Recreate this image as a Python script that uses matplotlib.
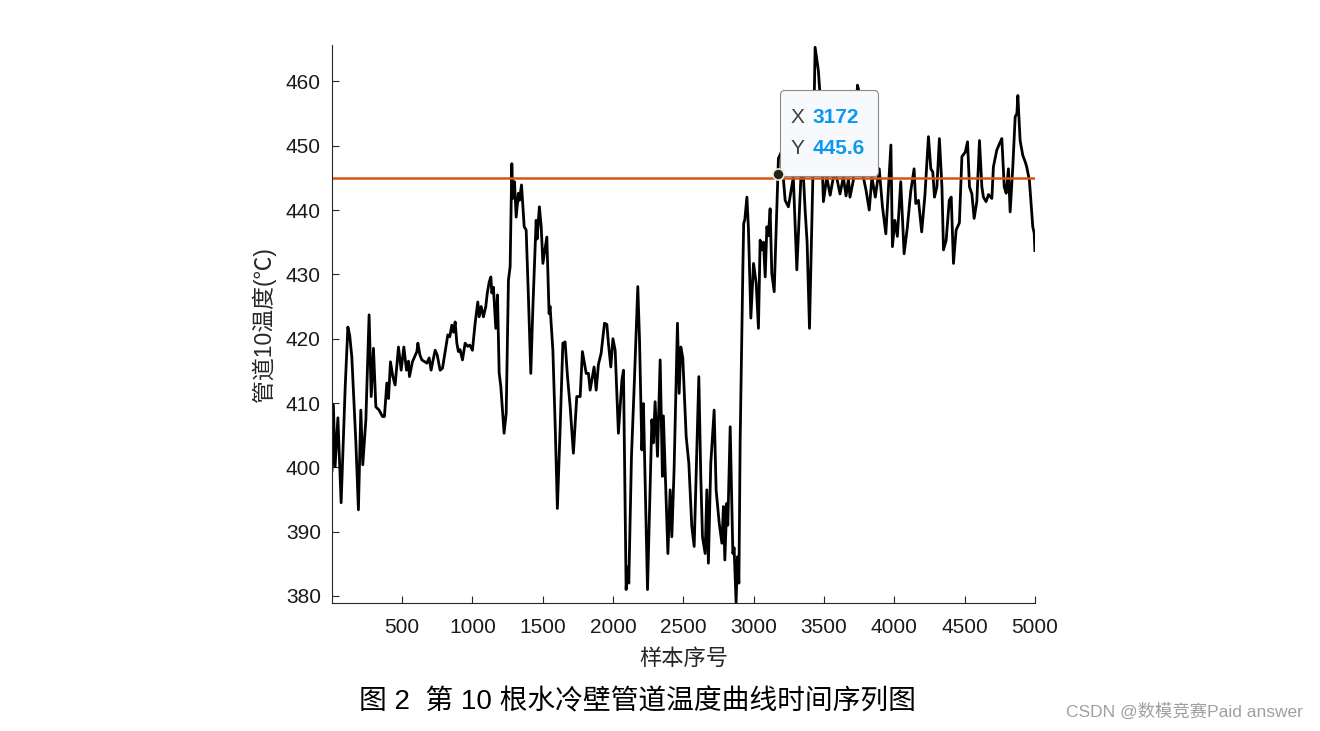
import numpy as np
import matplotlib
matplotlib.use("Agg")
import matplotlib.pyplot as plt
from matplotlib.offsetbox import TextArea, HPacker, VPacker, DrawingArea, AnnotationBbox

plt.rcParams['font.family'] = ['Liberation Sans', 'Noto Sans CJK SC', 'DejaVu Sans']

# sample index / pipe temperature
sample_idx = [
    1, 11, 23, 43, 66, 95, 114, 127, 142, 171, 189, 206, 220, 242, 265, 280, 296, 313,
    336, 360, 374, 391, 403, 417, 434, 450, 474, 493, 512, 531, 545, 552, 573, 605,
    612, 626, 640, 676, 692, 706, 723, 735, 749, 770, 787, 811, 825, 839, 853, 865,
    877, 889, 900, 912, 929, 948, 967, 981, 1000, 1019, 1038, 1048, 1062, 1078, 1095,
    1105, 1119, 1131, 1138, 1149, 1166, 1178, 1190, 1202, 1225, 1240, 1256, 1268,
    1280, 1287, 1299, 1311, 1327, 1334, 1349, 1368, 1382, 1398, 1415, 1430, 1453,
    1460, 1476, 1489, 1501, 1529, 1545, 1552, 1572, 1588, 1604, 1624, 1643, 1659,
    1676, 1695, 1718, 1742, 1766, 1782, 1809, 1825, 1837, 1865, 1880, 1896, 1915,
    1939, 1956, 1967, 1984, 1999, 2015, 2038, 2063, 2074, 2093, 2102, 2112, 2131,
    2152, 2176, 2188, 2205, 2216, 2245, 2276, 2287, 2299, 2316, 2335, 2351, 2358,
    2378, 2390, 2406, 2418, 2434, 2458, 2470, 2482, 2496, 2520, 2539, 2560, 2577,
    2596, 2610, 2624, 2636, 2655, 2667, 2678, 2695, 2719, 2733, 2755, 2774, 2785,
    2795, 2809, 2816, 2833, 2852, 2861, 2875, 2885, 2895, 2904, 2923, 2929, 2937,
    2952, 2963, 2980, 2999, 3018, 3034, 3046, 3058, 3070, 3082, 3094, 3105, 3117,
    3129, 3146, 3172, 3176, 3196, 3224, 3247, 3282, 3307, 3336, 3352, 3366, 3380,
    3397, 3421, 3437, 3460, 3473, 3483, 3496, 3520, 3544, 3567, 3591, 3614, 3638,
    3657, 3674, 3685, 3709, 3738, 3752, 3780, 3799, 3822, 3841, 3865, 3893, 3916,
    3940, 3976, 3987, 4004, 4022, 4046, 4070, 4093, 4117, 4141, 4153, 4172, 4195,
    4218, 4243, 4260, 4274, 4286, 4303, 4321, 4339, 4350, 4369, 4391, 4405, 4421,
    4440, 4463, 4481, 4505, 4521, 4535, 4552, 4568, 4587, 4606, 4623, 4634, 4653,
    4670, 4694, 4705, 4729, 4748, 4765, 4782, 4796, 4812, 4824, 4843, 4860, 4872,
    4879, 4895, 4914, 4931, 4942, 4961, 4985, 4995, 5000,
]
temperature = [
    399.5, 409.7, 400.1, 407.7, 394.5, 412.5, 421.8, 420.5, 417.2, 403.8, 393.4, 408.9,
    400.4, 407.4, 423.7, 411.0, 418.5, 409.4, 408.9, 407.9, 407.9, 413.1, 410.7, 416.4,
    414.1, 412.8, 418.7, 415.1, 418.7, 415.1, 416.5, 414.1, 416.4, 418.0, 419.3, 417.5,
    416.7, 416.2, 417.0, 415.1, 417.0, 418.2, 417.5, 415.1, 415.4, 418.7, 420.6, 420.3,
    422.1, 421.0, 422.6, 419.3, 418.0, 418.3, 416.7, 419.3, 418.8, 419.0, 418.2, 422.4,
    425.7, 423.4, 425.0, 423.4, 425.0, 427.0, 428.8, 429.6, 427.1, 428.0, 421.6, 426.8,
    414.7, 412.5, 405.3, 408.4, 429.1, 431.2, 447.2, 441.8, 444.4, 438.9, 442.6, 441.5,
    443.9, 437.4, 436.9, 426.5, 414.6, 425.0, 438.4, 435.5, 440.5, 437.4, 431.7, 435.8,
    423.9, 425.0, 418.2, 406.8, 393.6, 406.3, 419.3, 419.5, 414.1, 409.4, 402.2, 411.0,
    411.0, 418.0, 414.6, 414.6, 412.0, 415.6, 412.0, 416.0, 417.7, 422.4, 422.2, 419.3,
    415.6, 420.0, 418.2, 405.3, 413.6, 415.1, 381.0, 384.5, 382.0, 401.7, 413.6, 428.1,
    420.0, 402.7, 409.9, 381.0, 407.4, 403.8, 410.2, 401.7, 416.7, 398.6, 408.0, 394.4,
    386.6, 396.5, 389.2, 399.6, 422.4, 411.5, 418.7, 417.0, 404.8, 400.6, 390.8, 387.7,
    402.7, 414.1, 398.5, 389.2, 386.6, 396.5, 385.1, 400.6, 408.9, 396.5, 391.3, 388.2,
    393.9, 385.6, 394.4, 391.0, 406.3, 386.6, 387.5, 378.9, 386.1, 382.0, 404.3, 430.7,
    437.9, 438.5, 442.0, 437.0, 423.2, 431.7, 428.6, 421.6, 435.3, 433.8, 435.0, 429.6,
    437.4, 436.0, 440.2, 430.1, 427.3, 445.6, 448.0, 449.0, 441.5, 440.5, 445.1, 430.7,
    445.1, 446.0, 440.0, 435.0, 421.6, 445.1, 465.3, 461.7, 457.6, 450.0, 441.3, 445.1,
    442.3, 445.1, 445.0, 442.5, 445.1, 442.2, 444.8, 442.0, 444.6, 459.4, 458.2, 445.1,
    443.1, 440.0, 445.1, 442.0, 446.4, 440.5, 436.3, 450.1, 434.3, 438.4, 435.9, 444.4,
    433.2, 437.3, 442.9, 446.4, 441.0, 441.5, 436.6, 442.3, 451.4, 446.4, 445.9, 442.0,
    443.6, 451.1, 443.6, 433.8, 435.3, 441.5, 442.0, 431.7, 436.9, 438.0, 448.3, 449.0,
    450.6, 443.6, 442.5, 438.7, 441.3, 450.8, 443.6, 442.0, 441.3, 442.4, 441.8, 446.7,
    449.3, 450.3, 451.1, 443.6, 442.6, 446.4, 439.7, 446.7, 454.5, 455.0, 457.8, 450.8,
    448.5, 447.5, 446.7, 444.6, 437.4, 436.4, 433.7,
]
threshold = 445
tip_x, tip_y = 3172, 445.6
x_ticks = [500, 1000, 1500, 2000, 2500, 3000, 3500, 4000, 4500, 5000]
y_ticks = [380, 390, 400, 410, 420, 430, 440, 450, 460]

fig = plt.figure(figsize=(13.2, 7.31), dpi=100)
ax = fig.add_axes([0.2515, 0.175, 0.5325, 0.763])

ax.plot(sample_idx, temperature, color='black', lw=2)
ax.plot([sample_idx[0], sample_idx[-1]], [threshold, threshold], color='#D95319', lw=1.8)
ax.plot([tip_x], [tip_y], 'o', ms=8, mfc='#1f261f', mec='#f3efc4', mew=1.2, zorder=5)

ax.set_xlim(1, 5000)
ax.set_ylim(min(temperature), max(temperature) + 0.3)
ax.set_xticks(x_ticks)
ax.set_yticks(y_ticks)
ax.tick_params(direction='in', length=5, width=0.8, labelsize=15, colors='#262626',
               labelcolor='#1a1a1a', top=False, right=False)
ax.tick_params(axis='x', pad=11)
ax.tick_params(axis='y', pad=8)
for s in ['top', 'right']:
    ax.spines[s].set_visible(False)
for s in ['left', 'bottom']:
    ax.spines[s].set_color('#262626')
    ax.spines[s].set_linewidth(0.8)

ax.set_ylabel('管道10温度(℃)', fontsize=16.5, color='#262626', labelpad=7)
ax.set_xlabel('样本序号', fontsize=16, color='#262626', labelpad=8)

# data tip
def row(name, val):
    return HPacker(children=[
        TextArea(name, textprops=dict(color='#404040', fontsize=15)),
        TextArea(val, textprops=dict(color='#0a98f0', fontsize=15, fontweight='bold')),
    ], align='baseline', pad=0, sep=6)

rows = VPacker(children=[row('X', str(tip_x)), row('Y', f'{tip_y}')], align='left', pad=0, sep=9)
col = VPacker(children=[DrawingArea(1, 6.5), rows, DrawingArea(1, 6.5)], align='left', pad=0, sep=0)
tip = HPacker(children=[DrawingArea(1.5, 1), col, DrawingArea(3.6, 1)], align='center', pad=0, sep=0)
ab = AnnotationBbox(tip, (tip_x, tip_y), xybox=(7.6, 4.8), boxcoords='offset points',
                    box_alignment=(0, 0), frameon=True,
                    bboxprops=dict(boxstyle='round,pad=0.6,rounding_size=0.3',
                                   fc='#f8f9fd', ec='#8a8a8a', lw=0.8))
ax.add_artist(ab)

fig.text(0.4826, 0.040, '图 2  第 10 根水冷壁管道温度曲线时间序列图', fontsize=20,
         ha='center', va='center', color='black')
fig.text(0.987, 0.027, 'CSDN @数模竞赛Paid answer', fontsize=12.5, ha='right',
         va='center', color='#a0a0a0')

fig.savefig('out.png', dpi=100)
